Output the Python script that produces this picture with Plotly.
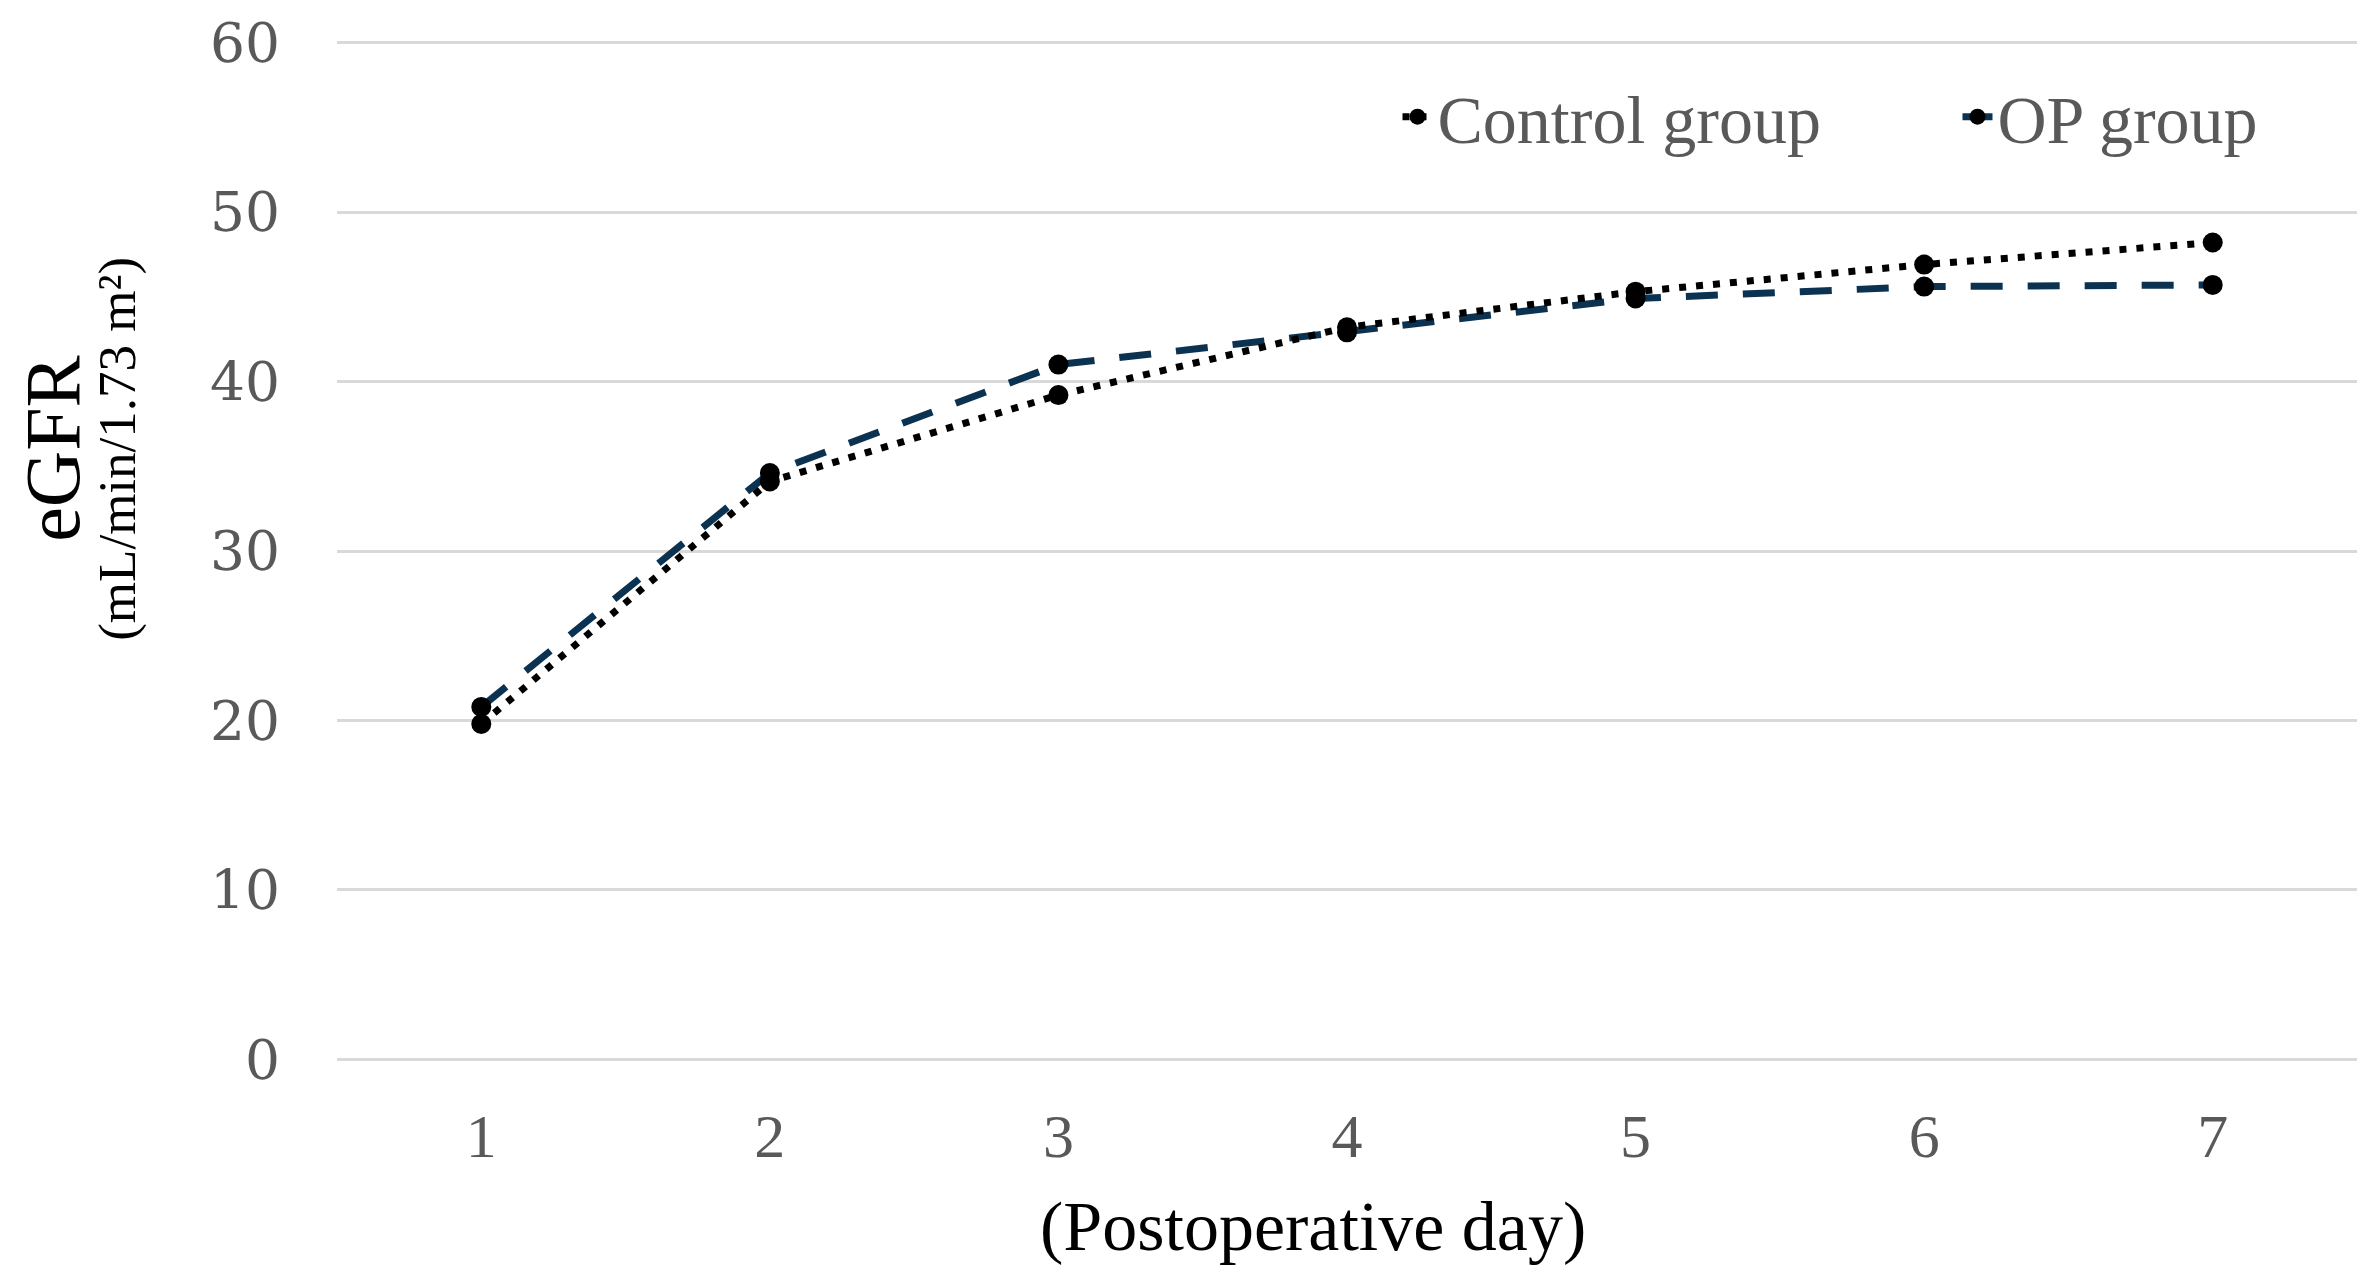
import plotly.graph_objects as go

days = [1, 2, 3, 4, 5, 6, 7]
control_values = [19.8, 34.1, 39.2, 43.2, 45.3, 46.9, 48.2]
op_values = [20.8, 34.6, 41.0, 42.9, 44.9, 45.6, 45.7]
y_ticks = [0, 10, 20, 30, 40, 50, 60]

W, H = 2379, 1287
# the page adds an 8px body margin, so the plot area is placed 8px up/left
L, T = 329, 32
PW, PH = 2020, 1022
R, B = W - L - PW, H - T - PH

fig = go.Figure()
fig.add_trace(go.Scatter(
    x=days, y=op_values, name="OP group", mode="lines+markers",
    line=dict(color="#0B3251", width=7, dash="32px,25px"),
    marker=dict(color="black", size=20, symbol="circle"),
))
fig.add_trace(go.Scatter(
    x=days, y=control_values, name="Control group", mode="lines+markers",
    line=dict(color="black", width=7, dash="7px,10px"),
    marker=dict(color="black", size=20, symbol="circle"),
))

fig.update_layout(
    width=W, height=H,
    margin=dict(l=L, r=R, t=T, b=B, autoexpand=False),
    paper_bgcolor="white", plot_bgcolor="white",
    showlegend=True,
    legend=dict(
        orientation="h", traceorder="reversed",
        x=0.525, xanchor="left", y=0.9247, yanchor="middle",
        entrywidth=515,
        font=dict(family="Liberation Serif", size=68, color="#595959"),
        bgcolor="rgba(0,0,0,0)",
    ),
    xaxis=dict(
        range=[0.5, 7.5], tickmode="array", tickvals=days,
        ticktext=[str(d) for d in days],
        showgrid=False, zeroline=False, showline=False,
        ticks="", ticklabelstandoff=32,
        tickfont=dict(family="Liberation Serif", size=62, color="#595959"),
    ),
    yaxis=dict(
        range=[-0.15, 60.15], tickmode="array", tickvals=y_ticks,
        showgrid=True, gridcolor="#D9D9D9", gridwidth=3,
        zeroline=True, zerolinecolor="#D9D9D9", zerolinewidth=3,
        showline=False, ticks="",
        ticklabelstandoff=56,
        tickfont=dict(family="DejaVu Serif", size=55, color="#595959"),
    ),
    annotations=[
        dict(text="eGFR", xref="paper", yref="paper", x=-0.1406, y=0.6,
             xanchor="center", yanchor="middle", textangle=-90, showarrow=False,
             font=dict(family="Liberation Serif", size=78, color="black")),
        dict(text="(mL/min/1.73 m²)", xref="paper", yref="paper", x=-0.1084, y=0.6,
             xanchor="center", yanchor="middle", textangle=-90, showarrow=False,
             font=dict(family="Liberation Serif", size=53, color="black")),
        dict(text="(Postoperative day)", xref="paper", yref="paper", x=0.483, y=-0.1614,
             xanchor="center", yanchor="middle", showarrow=False,
             font=dict(family="Liberation Serif", size=70, color="black")),
    ],
)

fig.write_html("out.html")
